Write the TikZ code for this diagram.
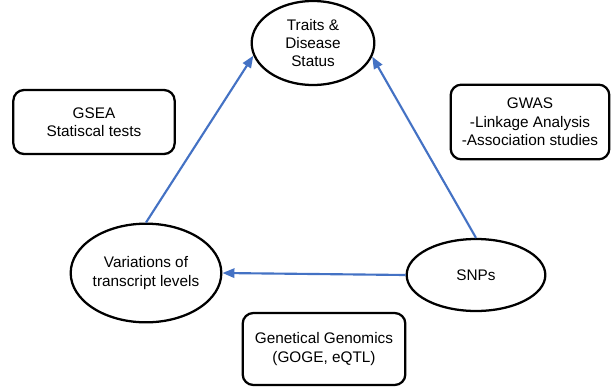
\documentclass[tikz,border=0pt]{standalone}
\usepackage{fontspec}
\setmainfont{Liberation Sans}
\usepackage{tikz}
\usetikzlibrary{arrows.meta,positioning,shapes.geometric}
\definecolor{arrowblue}{HTML}{4472C4}

\begin{document}
\begin{tikzpicture}[
  x=0.75pt, y=-0.75pt,
  oval/.style={draw, ellipse, line width=1.7pt, inner sep=0pt, align=center, font=\fontsize{11.5}{13.8}\selectfont},
  box/.style={draw, rounded corners=8pt, line width=1.7pt, inner sep=0pt, align=center, font=\fontsize{11.5}{13.8}\selectfont},
  arr/.style={-{Triangle[length=9pt,width=7pt]}, arrowblue, line width=1.6pt},
]
  \useasboundingbox (0,0) rectangle (613,389);

  % Main nodes
  \node[oval, minimum width=92pt, minimum height=63pt] (traits) at (313,43) {Traits \&\\Disease\\Status};
  \node[oval, minimum width=106pt, minimum height=74pt] (var) at (146,273) {Variations of\\transcript levels};
  \node[oval, minimum width=104pt, minimum height=54pt] (snps) at (476,275) {SNPs};

  % Method boxes
  \node[box, minimum width=121pt, minimum height=48pt] (gsea) at (94,122) {GSEA\\Statiscal tests};
  \node[box, minimum width=119pt, minimum height=56pt] (gwas) at (530,122) {GWAS\\-Linkage Analysis\\-Association studies};
  \node[box, minimum width=122pt, minimum height=54pt] (gg) at (324,349) {Genetical Genomics\\(GOGE, eQTL)};

  \draw[arr] (var.north) -- (traits.192);
  \draw[arr] (snps.north) -- (traits.347);
  \draw[arr] (snps.west) -- (var.east);
\end{tikzpicture}
\end{document}
